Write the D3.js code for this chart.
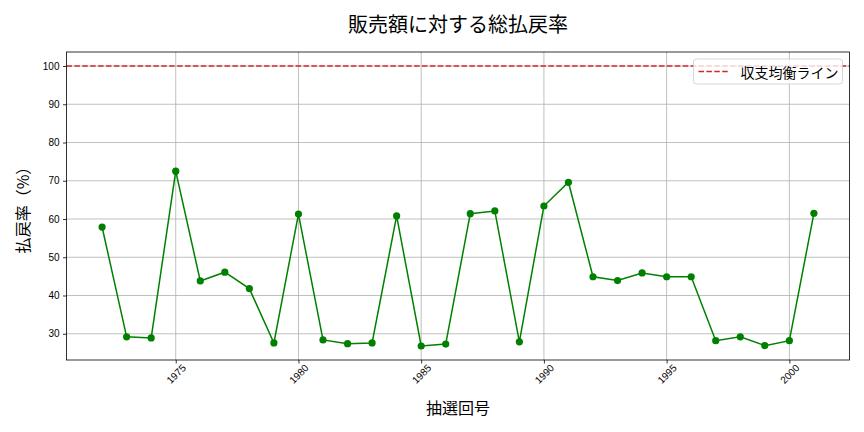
<!DOCTYPE html>
<html>
<head>
<meta charset="utf-8">
<script src="https://cdn.jsdelivr.net/npm/d3@7"></script>
<style>
  body { margin: 0; background: #fff; }
  svg { font-family: "Noto Sans CJK JP", "DejaVu Sans", sans-serif; }
</style>
</head>
<body>
<div id="chart"></div>
<script>
// draw numbers (x axis) and payout ratio (%)
const draws = [1972, 1973, 1974, 1975, 1976, 1977, 1978, 1979, 1980, 1981,
  1982, 1983, 1984, 1985, 1986, 1987, 1988, 1989, 1990, 1991,
  1992, 1993, 1994, 1995, 1996, 1997, 1998, 1999, 2000, 2001];
const payout = [57.9, 29.2, 28.9, 72.5, 43.8, 46.1, 41.8, 27.6, 61.3, 28.4,
  27.4, 27.6, 60.8, 26.8, 27.3, 61.4, 62.1, 27.9, 63.4, 69.6,
  44.9, 43.9, 45.9, 44.9, 44.9, 28.2, 29.2, 26.9, 28.2, 61.5];
const breakEven = 100;
const xTicks = [1975, 1980, 1985, 1990, 1995, 2000];
const yTicks = [30, 40, 50, 60, 70, 80, 90, 100];
const title = "販売額に対する総払戻率";
const xLabel = "抽選回号";
const yLabel = "払戻率（%）";
const legendLabel = "収支均衡ライン";

(function(d3) {
  const W = 864, H = 432;
  const margin = { top: 52, right: 14.5, bottom: 72, left: 66.5 };
  const w = W - margin.left - margin.right;
  const h = H - margin.top - margin.bottom;

  const svg = d3.select("#chart").append("svg")
    .attr("width", W).attr("height", H);

  // matplotlib-like 5% padding
  const xMin = d3.min(draws), xMax = d3.max(draws);
  const xPad = (xMax - xMin) * 0.05;
  const yMin = Math.min(d3.min(payout), breakEven), yMax = Math.max(d3.max(payout), breakEven);
  const yPad = (yMax - yMin) * 0.05;

  const x = d3.scaleLinear().domain([xMin - xPad, xMax + xPad]).range([0, w]);
  const y = d3.scaleLinear().domain([yMin - yPad, yMax + yPad]).range([h, 0]);

  const g = svg.append("g").attr("transform", `translate(${margin.left},${margin.top})`);

  // grid
  g.append("g").selectAll("line").data(xTicks).enter().append("line")
    .attr("x1", d => x(d)).attr("x2", d => x(d))
    .attr("y1", 0).attr("y2", h)
    .attr("stroke", "#b0b0b0").attr("stroke-width", 0.8);
  g.append("g").selectAll("line").data(yTicks).enter().append("line")
    .attr("x1", 0).attr("x2", w)
    .attr("y1", d => y(d)).attr("y2", d => y(d))
    .attr("stroke", "#b0b0b0").attr("stroke-width", 0.8);

  // break-even line
  g.append("line")
    .attr("x1", 0).attr("x2", w)
    .attr("y1", y(breakEven)).attr("y2", y(breakEven))
    .attr("stroke", "#d62728").attr("stroke-width", 1.5)
    .attr("stroke-dasharray", "5.5,2.4");

  // series
  const line = d3.line().x((d, i) => x(draws[i])).y(d => y(d));
  g.append("path").datum(payout)
    .attr("fill", "none").attr("stroke", "green").attr("stroke-width", 1.5)
    .attr("d", line);
  g.selectAll("circle.pt").data(payout).enter().append("circle")
    .attr("class", "pt")
    .attr("cx", (d, i) => x(draws[i])).attr("cy", d => y(d))
    .attr("r", 3.6).attr("fill", "green");

  // axes
  const xAxis = g.append("g").attr("transform", `translate(0,${h})`)
    .call(d3.axisBottom(x).tickValues(xTicks).tickFormat(d3.format("d")).tickSize(3.5).tickPadding(2));
  xAxis.selectAll("text")
    .attr("font-size", 10).attr("fill", "#000")
    .attr("text-anchor", "middle")
    .attr("dy", null).attr("y", 0)
    .attr("transform", "translate(0,14) rotate(-45)")
    .attr("dominant-baseline", "central");
  const yAxis = g.append("g")
    .call(d3.axisLeft(y).tickValues(yTicks).tickSize(3.5).tickPadding(3.5));
  yAxis.selectAll("text").attr("font-size", 10).attr("fill", "#000");
  [xAxis, yAxis].forEach(a => {
    a.select(".domain").remove();
    a.selectAll(".tick line").attr("stroke", "#000").attr("stroke-width", 0.8);
  });

  // frame
  g.append("rect").attr("width", w).attr("height", h)
    .attr("fill", "none").attr("stroke", "#000").attr("stroke-width", 0.8);

  // legend
  const lg = g.append("g").attr("transform", `translate(${w - 156},7)`);
  lg.append("rect").attr("width", 149).attr("height", 25).attr("rx", 3)
    .attr("fill", "rgba(255,255,255,0.8)").attr("stroke", "#ccc").attr("stroke-width", 0.8);
  lg.append("line").attr("x1", 5).attr("x2", 35).attr("y1", 12.5).attr("y2", 12.5)
    .attr("stroke", "#d62728").attr("stroke-width", 1.5).attr("stroke-dasharray", "5.5,2.4");
  lg.append("text").attr("x", 47).attr("y", 12.5).attr("dominant-baseline", "central")
    .attr("font-size", 14).text(legendLabel);

  // titles
  svg.append("text").attr("x", margin.left + w / 2).attr("y", 23)
    .attr("text-anchor", "middle").attr("dominant-baseline", "central")
    .attr("font-size", 20).text(title);
  svg.append("text").attr("x", margin.left + w / 2).attr("y", 407)
    .attr("text-anchor", "middle").attr("dominant-baseline", "central")
    .attr("font-size", 16).text(xLabel);
  svg.append("text")
    .attr("transform", `translate(22,${margin.top + h / 2}) rotate(-90)`)
    .attr("text-anchor", "middle").attr("dominant-baseline", "central")
    .attr("font-size", 16).text(yLabel);
})(d3);
</script>
</body>
</html>
